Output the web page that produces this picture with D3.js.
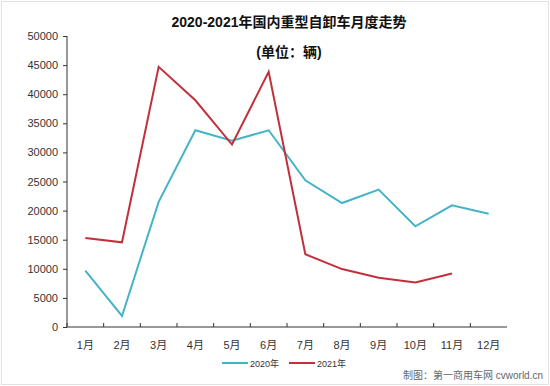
<!DOCTYPE html>
<html lang="zh">
<head>
<meta charset="UTF-8">
<title>2020-2021年国内重型自卸车月度走势</title>
<script src="https://d3js.org/d3.v7.min.js"></script>
<style>
    body { margin: 0; background: #fff; font-family: "Liberation Sans", Arial, "Noto Sans CJK SC", sans-serif; }
</style>
</head>
<body>
<div id="chart"></div>
<script>
    const months = ["1月", "2月", "3月", "4月", "5月", "6月", "7月", "8月", "9月", "10月", "11月", "12月"];
    const sales2020 = [9700, 1900, 21500, 33800, 32000, 33800, 25200, 21300, 23600, 17300, 20900, 19450];
    const sales2021 = [15300, 14550, 44700, 38950, 31350, 43850, 12500, 9950, 8450, 7650, 9200];
    const yTicks = [0, 5000, 10000, 15000, 20000, 25000, 30000, 35000, 40000, 45000, 50000];
    const seriesNames = ["2020年", "2021年"];
    const colors = ["#45b3c6", "#c1303b"];

    const width = 550, height = 386;
    const margin = { left: 67, right: 43, top: 36, bottom: 59 };

    const svg = d3.select("#chart").append("svg")
        .attr("width", width)
        .attr("height", height);

    // light frame round the picture
    svg.append("rect")
        .attr("x", 1.5).attr("y", 1.5)
        .attr("width", width - 3).attr("height", height - 3)
        .attr("fill", "#fff")
        .attr("stroke", "#e2e2e2");

    const x = d3.scaleBand()
        .domain(months)
        .range([margin.left, width - margin.right]);

    const y = d3.scaleLinear()
        .domain([0, 50000])
        .range([height - margin.bottom, margin.top]);

    // y axis
    const yAxis = svg.append("g")
        .attr("transform", `translate(${margin.left},0)`)
        .call(d3.axisLeft(y).tickValues(yTicks).tickSize(4).tickPadding(5).tickFormat(d3.format("d")));
    yAxis.selectAll("text").style("font-size", "11px").attr("fill", "#333");
    yAxis.selectAll("line, path").attr("stroke", "#333");
    yAxis.select(".domain").attr("d", `M0,${y(0)}V${y(50000)}`);

    // x axis, ticks between months pointing up
    const xAxis = svg.append("g")
        .attr("transform", `translate(0,${y(0)})`);
    xAxis.append("line")
        .attr("x1", margin.left).attr("x2", width - margin.right)
        .attr("stroke", "#333");
    xAxis.selectAll("line.tick")
        .data(months)
        .enter().append("line")
        .attr("class", "tick")
        .attr("x1", d => x(d)).attr("x2", d => x(d))
        .attr("y1", 0).attr("y2", -4)
        .attr("stroke", "#333");
    xAxis.selectAll("text")
        .data(months)
        .enter().append("text")
        .attr("x", d => x(d) + x.bandwidth() / 2)
        .attr("y", 22)
        .attr("text-anchor", "middle")
        .style("font-size", "11px")
        .attr("fill", "#333")
        .text(d => d);

    // lines
    const line = d3.line()
        .x((d, i) => x(months[i]) + x.bandwidth() / 2)
        .y(d => y(d));

    [sales2020, sales2021].forEach((s, i) => {
        svg.append("path")
            .datum(s)
            .attr("fill", "none")
            .attr("stroke", colors[i])
            .attr("stroke-width", 2)
            .attr("stroke-linejoin", "miter")
            .attr("d", line);
    });

    // title
    svg.append("text")
        .attr("x", 289).attr("y", 27)
        .attr("text-anchor", "middle")
        .style("font-size", "14px")
        .style("font-weight", "bold")
        .attr("fill", "#111")
        .text("2020-2021年国内重型自卸车月度走势");
    svg.append("text")
        .attr("x", 289).attr("y", 57)
        .attr("text-anchor", "middle")
        .style("font-size", "14px")
        .style("font-weight", "bold")
        .attr("fill", "#111")
        .text("(单位：辆)");

    // legend
    const legend = svg.append("g").attr("transform", "translate(222,363)");
    seriesNames.forEach((name, i) => {
        const g = legend.append("g").attr("transform", `translate(${i * 67},0)`);
        g.append("line")
            .attr("x1", 0).attr("x2", 26)
            .attr("stroke", colors[i])
            .attr("stroke-width", 2);
        g.append("text")
            .attr("x", 28).attr("y", 3.5)
            .style("font-size", "9px")
            .attr("fill", "#333")
            .text(name);
    });

    // credit line
    svg.append("text")
        .attr("x", 543).attr("y", 379)
        .attr("text-anchor", "end")
        .style("font-size", "10px")
        .attr("fill", "#666")
        .text("制图：第一商用车网 cvworld.cn");
</script>
</body>
</html>
